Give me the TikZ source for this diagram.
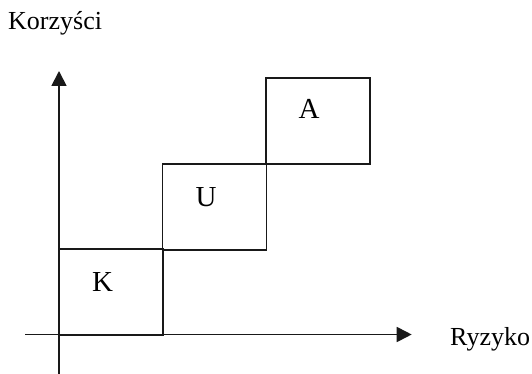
\documentclass[tikz,border=0pt]{standalone}
\usepackage{fontspec}
\setmainfont{Liberation Serif}
\usetikzlibrary{arrows.meta}
\begin{document}
\begin{tikzpicture}[x=1pt,y=-1pt,
  ln/.style={line width=1.8pt, draw=black!90},
  axis/.style={ln, -{Triangle[length=15pt,width=15pt]}},
  box/.style={ln, rectangle, minimum width=104pt, minimum height=86pt, inner sep=0pt},
  axlab/.style={font=\fontsize{26}{30}\selectfont, inner sep=0pt, anchor=base west},
  boxlab/.style={font=\fontsize{29}{32}\selectfont, inner sep=0pt}]
\useasboundingbox (0,0) rectangle (532,374);
\node[box, draw] (k) at (110.75,292.25) {};
\node[box, draw] (u) at (214.4,207.1) {};
\node[box, draw] (a) at (318.3,121.3) {};
\node[boxlab] (kl) at (102.5,282) {K};
\node[boxlab] (ul) at (206,197) {U};
\node[boxlab] (al) at (309,109) {A};
\coordinate (ybot) at (59,374);
\coordinate (ytop) at (59,71);
\coordinate (xl) at (25,334.5);
\coordinate (xr) at (411.7,334.5);
\draw[axis] (ybot) -- (ytop);
\draw[axis] (xl) -- (xr);
\node[axlab] (kor) at (8,30) {Korzyści};
\node[axlab] (ryz) at (450,345) {Ryzyko};
\end{tikzpicture}
\end{document}
